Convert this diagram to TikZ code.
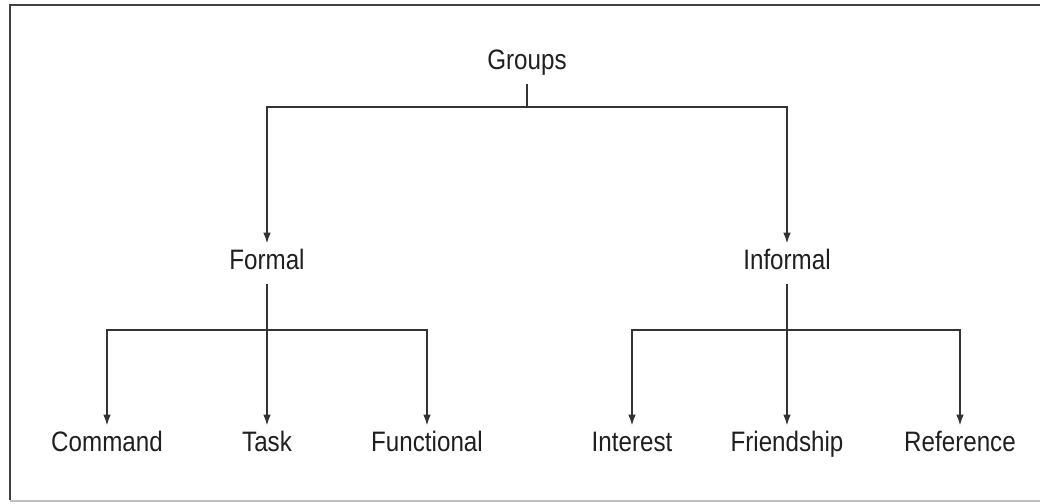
\documentclass[tikz,border=0pt]{standalone}
\usepackage{fontspec}
\setmainfont{Liberation Sans}[FakeStretch=0.86]
\usetikzlibrary{arrows.meta}

\begin{document}
\begin{tikzpicture}[
        every node/.style={font=\fontsize{20}{24}\selectfont, text=black!88,
            text height=14.4pt, text depth=6pt, inner xsep=2pt, inner ysep=4pt},
        edge from parent/.style={draw=black!80, line width=1.3pt, -{Latex[length=8pt,width=5.5pt]}},
        level 1/.style={level distance=5cm, sibling distance=13cm,
            edge from parent path={(\tikzparentnode.south) -- ++(0,-0.575) -| (\tikzchildnode.north)}},
        level 2/.style={level distance=4.55cm, sibling distance=4cm,
            edge from parent path={(\tikzparentnode.south) -- ++(0,-1.15) -| (\tikzchildnode.north)}}]
            \useasboundingbox (0,0) rectangle (26,-12.575);
            % frame
            \draw[black!75, line width=1.8pt] (26,-0.125) -- (0.25,-0.125) -- (0.25,-12.5);
            \draw[black!25, line width=0.8pt] (0.25,-12.525) -- (26,-12.525);
            \node (groups) at (13.175,-1.6) {Groups}
                child {node (formal) {Formal}
                    child {node (command) {Command}}
                    child {node (task) {Task}}
                    child {node (functional) {Functional}}
                }
                child {node (informal) {Informal}
                    child {node[xshift=0.125cm] (interest) {Interest}}
                    child {node (friendship) {Friendship}}
                    child {node[xshift=0.325cm] (reference) {Reference}}
                };
        \end{tikzpicture}
\end{document}
